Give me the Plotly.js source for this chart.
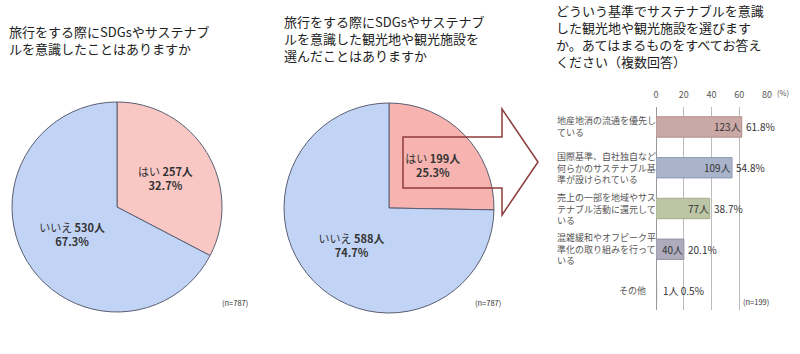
<!DOCTYPE html>
<html>
<head>
<meta charset="utf-8">
<script src="https://cdn.plot.ly/plotly-3.0.1.min.js"></script>
<style>html,body{margin:0;padding:0;background:#fff;}#chart{width:800px;height:354px;}</style>
</head>
<body>
<div id="chart"></div>
<script>
// ---- data ----
const pieLabels = ['はい', 'いいえ'];
const pie1Counts = [257, 530];
const pie1Pct = [32.7, 67.3];
const pie2Counts = [199, 588];
const pie2Pct = [25.3, 74.7];
const pieN = 787;

const barCats = [
  '地産地消の流通を優先している',
  '国際基準、自社独自など何らかのサステナブル基準が設けられている',
  '売上の一部を地域やサステナブル活動に還元している',
  '混雑緩和やオフピーク平準化の取り組みを行っている',
  'その他'
];
const barCatLines = [
  ['地産地消の流通を優先し', 'ている'],
  ['国際基準、自社独自など', '何らかのサステナブル基', '準が設けられている'],
  ['売上の一部を地域やサス', 'テナブル活動に還元して', 'いる'],
  ['混雑緩和やオフピーク平', '準化の取り組みを行って', 'いる'],
  ['その他']
];
const barCounts = [123, 109, 77, 40, 1];
const barPct = [61.8, 54.8, 38.7, 20.1, 0.5];
const barN = 199;
const xTicks = [0, 20, 40, 60, 80];

const title1 = ['旅行をする際にSDGsやサステナブ', 'ルを意識したことはありますか'];
const title2 = ['旅行をする際にSDGsやサステナブ', 'ルを意識した観光地や観光施設を', '選んだことはありますか'];
const title3 = ['どういう基準でサステナブルを意識', 'した観光地や観光施設を選びます', 'か。あてはまるものをすべてお答え', 'ください（複数回答）'];

// ---- styling ----
const W = 800, H = 354;
const FONT = '"Noto Sans CJK JP", "Noto Sans", sans-serif';
const px = x => x / W;
const py = y => 1 - y / H;
const barColors = ['#c9a8a6', '#a9b4ca', '#bcc6a6', '#aeabbd', '#b0b0b0'];
const barLines = ['#b08e8b', '#8f9bb3', '#a3ad8b', '#9592a5', '#999'];

const pieTrace = (counts, pct, dom, colors) => ({
  type: 'pie',
  labels: pieLabels,
  values: counts,
  customdata: counts.map((c, i) => [c, pct[i].toFixed(1)]),
  texttemplate: '%{label} <b>%{customdata[0]}人</b><br><b>%{customdata[1]}%</b>',
  textposition: 'inside',
  insidetextorientation: 'horizontal',
  textfont: {family: FONT, size: 11, color: '#333'},
  sort: false,
  direction: 'clockwise',
  rotation: 0,
  marker: {colors: colors, line: {color: '#5a5e72', width: 1}},
  domain: dom,
  showlegend: false,
  hoverinfo: 'none'
});

const traces = [
  pieTrace(pie1Counts, pie1Pct, {x: [px(12), px(222)], y: [py(312), py(102)]}, ['#f9c8c5', '#c2d4f6']),
  pieTrace(pie2Counts, pie2Pct, {x: [px(284), px(494)], y: [py(313), py(103)]}, ['#f6b3af', '#c2d4f6']),
  {
    type: 'bar',
    orientation: 'h',
    y: barCats,
    x: barPct,
    width: 0.5,
    marker: {color: barColors, line: {color: barLines, width: 1}},
    xaxis: 'x', yaxis: 'y',
    showlegend: false,
    hoverinfo: 'none'
  }
];

const annotations = [];
const addTitle = (lines, x, yCenter) => annotations.push({
  xref: 'paper', yref: 'paper', x: px(x), y: py(yCenter),
  xanchor: 'left', yanchor: 'middle', align: 'left', showarrow: false,
  text: lines.join('<br>'),
  font: {family: FONT, size: 13, color: '#222'}
});
addTitle(title1, 7, 40);
addTitle(title2, 282, 38.5);
addTitle(title3, 554, 36);

// n labels
[[220, 310], [488, 310]].forEach(p => annotations.push({
  xref: 'paper', yref: 'paper', x: px(p[0]), y: py(p[1]), showarrow: false,
  text: '(n=' + pieN + ')', font: {family: FONT, size: 7.5, color: '#333'}
}));
annotations.push({
  xref: 'paper', yref: 'paper', x: px(771), y: py(309), showarrow: false,
  text: '(n=' + barN + ')', font: {family: FONT, size: 7.5, color: '#333'}
});
annotations.push({
  xref: 'paper', yref: 'paper', x: px(775), y: py(92), xanchor: 'left', yanchor: 'middle', showarrow: false,
  text: '(%)', font: {family: FONT, size: 7.5, color: '#555'}
});

// category labels
barCats.forEach((c, i) => {
  const lines = barCatLines[i];
  const multi = lines.length > 1;
  annotations.push({
    xref: 'paper', yref: 'y', x: px(multi ? 555 : 648), y: c,
    xanchor: multi ? 'left' : 'right', align: multi ? 'left' : 'right', yanchor: 'middle',
    showarrow: false, text: lines.join('<br>'),
    font: {family: FONT, size: 9, color: '#555'}
  });
});

// value labels
barCats.forEach((c, i) => {
  const vf = {family: FONT, size: 10, color: '#333'};
  if (barPct[i] >= 5) {
    annotations.push({xref: 'x', yref: 'y', x: barPct[i], y: c, xanchor: 'right', showarrow: false,
      text: barCounts[i] + '人', font: vf, xshift: 1});
    annotations.push({xref: 'x', yref: 'y', x: barPct[i], y: c, xanchor: 'left', showarrow: false,
      text: barPct[i].toFixed(1) + '%', font: vf, xshift: 2});
  } else {
    annotations.push({xref: 'x', yref: 'y', x: barPct[i], y: c, xanchor: 'left', showarrow: false,
      text: barCounts[i] + '人 ' + barPct[i].toFixed(1) + '%', font: vf, xshift: 4});
  }
});

const arrowPts = [[403, 137], [502, 137], [502, 109], [538, 162], [502, 215], [502, 188], [403, 188]];
const arrowPath = 'M ' + arrowPts.map(p => px(p[0]) + ',' + py(p[1])).join(' L ') + ' Z';

const layout = {
  width: W, height: H,
  margin: {l: 0, r: 0, t: 0, b: 0},
  paper_bgcolor: '#fff', plot_bgcolor: 'rgba(0,0,0,0)',
  font: {family: FONT},
  xaxis: {
    domain: [px(656), px(767)], range: [0, 80], side: 'top',
    tickvals: xTicks, ticktext: xTicks.map(String),
    tickfont: {family: FONT, size: 9, color: '#555'},
    ticklabelstandoff: 6,
    showgrid: true, gridcolor: '#bcbcbc', gridwidth: 1,
    zeroline: true, zerolinecolor: '#999', zerolinewidth: 1,
    showline: false, ticks: '', anchor: 'y', fixedrange: true
  },
  yaxis: {
    domain: [py(310.4), py(106.6)], type: 'category', autorange: 'reversed',
    showticklabels: false, showgrid: false, zeroline: false, showline: false, ticks: '',
    anchor: 'x', fixedrange: true
  },
  shapes: [{
    type: 'path', xref: 'paper', yref: 'paper', path: arrowPath,
    line: {color: '#8e3b3b', width: 1.5}, fillcolor: 'rgba(0,0,0,0)', layer: 'above'
  }],
  annotations: annotations
};

Plotly.newPlot('chart', traces, layout, {staticPlot: true, displayModeBar: false});
</script>
</body>
</html>
